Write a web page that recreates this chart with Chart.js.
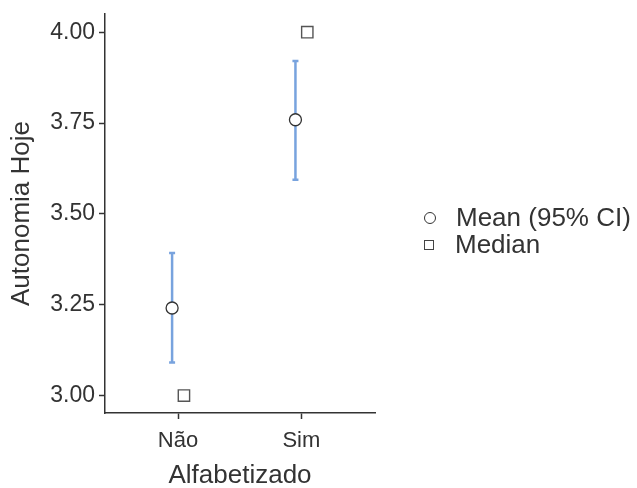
<!DOCTYPE html>
<html>
<head>
<meta charset="utf-8">
<script src="https://cdn.jsdelivr.net/npm/chart.js@4/dist/chart.umd.min.js"></script>
<style>
  body { margin: 0; background: #fff; }
  #wrap { position: relative; width: 637px; height: 488px; }
  #legend { position: absolute; left: 424px; top: 204px; font-family: "Liberation Sans", Arial, sans-serif; font-size: 26px; color: #333; }
  .row { display: flex; align-items: center; height: 27px; }
  .mk { width: 10px; height: 10px; border: 1px solid #444; margin-right: 21px; box-sizing: border-box; background: #fff; }
  .circ { border-radius: 50%; width: 12px; height: 12px; margin-right: 20px; border-color: #333; }
</style>
</head>
<body>
<div id="wrap">
  <canvas id="c" width="637" height="488"></canvas>
  <div id="legend">
    <div class="row"><span class="mk circ"></span>Mean (95% CI)</div>
    <div class="row"><span class="mk"></span>Median</div>
  </div>
</div>
<script>
const categories = ['Não', 'Sim'];
const means = [3.241, 3.759];
const ciLower = [3.091, 3.594];
const ciUpper = [3.392, 3.921];
const medians = [3.00, 4.00];
const yTicks = [3.00, 3.25, 3.50, 3.75, 4.00];

const dodge = 0.048;
const font = '"Liberation Sans", Arial, sans-serif';

const meanPoints = categories.map((c, i) => ({ x: i + 1 - dodge, y: means[i] }));
const medianPoints = categories.map((c, i) => ({ x: i + 1 + dodge, y: medians[i] }));

// CI whiskers drawn under the points
const errorBars = {
  id: 'errorBars',
  beforeDatasetsDraw(chart) {
    const ctx = chart.ctx;
    const xs = chart.scales.x, ys = chart.scales.y;
    ctx.save();
    ctx.strokeStyle = 'rgb(120,163,222)';
    ctx.lineWidth = 2.5;
    meanPoints.forEach((p, i) => {
      const px = xs.getPixelForValue(p.x);
      const top = ys.getPixelForValue(ciUpper[i]);
      const bot = ys.getPixelForValue(ciLower[i]);
      ctx.beginPath();
      ctx.moveTo(px, top); ctx.lineTo(px, bot);
      ctx.moveTo(px - 3, top); ctx.lineTo(px + 3, top);
      ctx.moveTo(px - 3, bot); ctx.lineTo(px + 3, bot);
      ctx.stroke();
    });
    ctx.restore();
  }
};

new Chart(document.getElementById('c'), {
  type: 'scatter',
  data: {
    datasets: [{
      label: 'Mean (95% CI)',
      data: meanPoints,
      pointStyle: 'circle',
      pointRadius: 6,
      backgroundColor: '#fff',
      borderColor: '#333',
      borderWidth: 1.3
    }, {
      label: 'Median',
      data: medianPoints,
      pointStyle: 'rect',
      pointRadius: 8,
      backgroundColor: '#fff',
      borderColor: '#555',
      borderWidth: 1.4
    }]
  },
  options: {
    responsive: false,
    animation: false,
    clip: false,
    layout: { padding: { left: 0, top: 14, right: 262, bottom: 0 } },
    plugins: { legend: { display: false }, tooltip: { enabled: false } },
    scales: {
      x: {
        type: 'linear',
        min: 0.408,
        max: 2.597,
        afterBuildTicks: s => { s.ticks = categories.map((c, i) => ({ value: i + 1 })); },
        afterFit: s => { s.height = 75; s.paddingLeft = 0; s.paddingRight = 0; },
        ticks: {
          callback: v => categories[v - 1],
          color: '#333',
          font: { family: font, size: 22 },
          padding: 9
        },
        grid: { drawOnChartArea: false, drawTicks: true, tickLength: 6, tickColor: '#333', tickWidth: 1.5 },
        border: { display: true, color: '#333', width: 1.5 },
        title: { display: true, text: 'Alfabetizado', color: '#333', font: { family: font, size: 26, lineHeight: 0.95 }, padding: { top: 0, bottom: 0 } }
      },
      y: {
        min: 2.952,
        max: 4.05,
        afterBuildTicks: s => { s.ticks = yTicks.map(v => ({ value: v })); },
        afterFit: s => { s.width = 105; s.paddingTop = 0; s.paddingBottom = 0; },
        ticks: {
          callback: v => v.toFixed(2),
          color: '#333',
          font: { family: font, size: 23 },
          padding: 4
        },
        grid: { drawOnChartArea: false, drawTicks: true, tickLength: 6, tickColor: '#333', tickWidth: 1.5 },
        border: { display: true, color: '#333', width: 1.5 },
        title: { display: true, text: 'Autonomia Hoje', color: '#333', font: { family: font, size: 26 }, padding: { top: 6, bottom: 0 } }
      }
    }
  },
  plugins: [errorBars]
});
</script>
</body>
</html>
